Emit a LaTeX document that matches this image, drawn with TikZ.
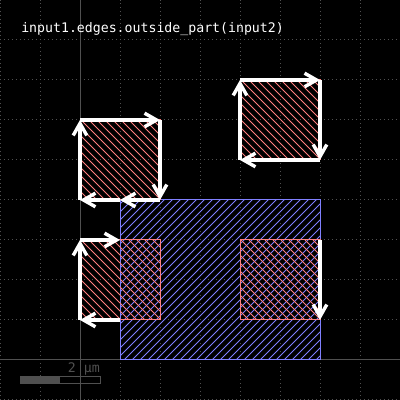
\documentclass[tikz,border=0pt]{standalone}
\usepackage{fontspec}
\setmonofont{DejaVu Sans Mono}
\usetikzlibrary{arrows.meta}
\usetikzlibrary{calc}
\usetikzlibrary{positioning}
\definecolor{hatchred}{RGB}{255,128,128}
\definecolor{hatchblue}{RGB}{128,128,255}
\definecolor{axisgray}{RGB}{80,80,80}
\tikzset{
griddots/.style={axisgray,line width=0.025cm,dash pattern=on 0.025cm off 0.075cm},
axisline/.style={axisgray,line width=0.025cm},
redhatch/.style={hatchred,line width=0.022cm},
bluehatch/.style={hatchblue,line width=0.022cm},
redframe/.style={hatchred,line width=0.025cm},
blueframe/.style={hatchblue,line width=0.025cm},
edgearrow/.style={white,line width=0.085cm,-{Straight Barb[length=3mm,width=3.4mm,line width=0.85mm]}},
caption/.style={white,font=\ttfamily\fontsize{9.4pt}{11pt}\selectfont,inner sep=0pt},
scalelabel/.style={axisgray,font=\ttfamily\fontsize{9.4pt}{11pt}\selectfont,inner sep=0pt}
}
\begin{document}
\begin{tikzpicture}
    \useasboundingbox[fill=black] (0,0) rectangle (10,10);
    %
    \foreach \g in {0,...,9} {
    \draw[griddots] (\g+0.0125,0) -- (\g+0.0125,10);
    \draw[griddots] (0,\g+0.0125) -- (10,\g+0.0125);
    }
    \draw[axisline] (2,0) -- (2,10);
    \draw[axisline] (0,1) -- (10,1);
    %
    % input2 box and input1 squares, hatched
    \begin{scope}
    \clip (3,1) rectangle (8,5);
    \foreach \k in {-2,-1.8,...,12}
    \draw[bluehatch] (\k+0.1,0) -- (\k+6.1,6);
    \end{scope}
    \draw[blueframe] (3,1) rectangle (8,5);
    \foreach \x / \y in {2/5,6/6,2/2,6/2} {
    \begin{scope}
    \clip (\x,\y) rectangle (\x+2,\y+2);
    \foreach \k in {0,0.2,...,4.2}
    \draw[redhatch] (\x+\k-1.975,\y+2) -- (\x+\k+0.025,\y);
    \end{scope}
    \draw[redframe] (\x,\y) rectangle (\x+2,\y+2);
    }
    %
    \coordinate (a1) at (2,5);
    \coordinate (a2) at (2,7);
    \coordinate (a3) at (4,7);
    \coordinate (a4) at (4,5);
    \coordinate (a5) at (3,5);
    \coordinate (b1) at (6,6);
    \coordinate (b2) at (6,8);
    \coordinate (b3) at (8,8);
    \coordinate (b4) at (8,6);
    \coordinate (c1) at (3,2);
    \coordinate (c2) at (2,2);
    \coordinate (c3) at (2,4);
    \coordinate (c4) at (3,4);
    \coordinate (d1) at (8,4);
    \coordinate (d2) at (8,2);
    %
    \foreach \u / \v in {a1/a2,a2/a3,a3/a4,a4/a5,a5/a1,b1/b2,b2/b3,b3/b4,b4/b1,c1/c2,c2/c3,c3/c4,d1/d2}
    \draw[edgearrow] (\u) -- (\v);
    %
    \node[caption,anchor=west](title) at (0.525,9.28) {input1.edges.outside\_part(input2)};
    \node[scalelabel,anchor=east](scaletext) at (2.5,0.78) {2 µm};
    \node[draw=axisgray,line width=0.025cm,inner sep=0pt,minimum width=2cm,minimum height=0.16cm,anchor=west](scalebar) at (0.5,0.5) {};
    \fill[axisgray] (scalebar.south west) rectangle ($(scalebar.north west)+(1,0)$);
\end{tikzpicture}
\end{document}
